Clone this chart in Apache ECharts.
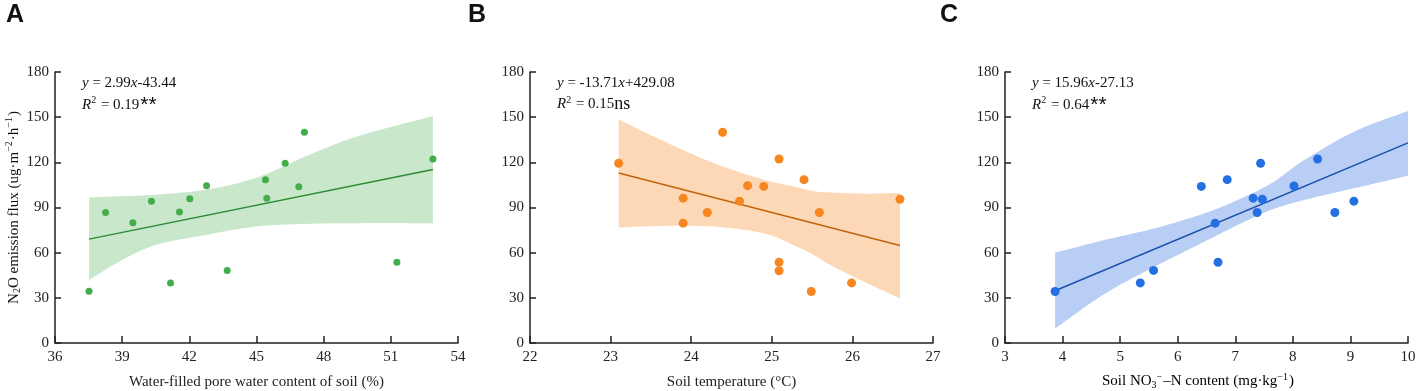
<!DOCTYPE html>
<html>
<head>
<meta charset="utf-8">
<script src="https://cdn.jsdelivr.net/npm/echarts@6/dist/echarts.min.js"></script>
<style>
html,body{margin:0;padding:0;background:#fff;}
#chart{width:1417px;height:391px;}
</style>
</head>
<body>
<div id="chart"></div>
<script>
// ---- Data ----
// Panel A: water-filled pore space (%) vs N2O flux
const xA = [37.52, 38.26, 39.48, 40.31, 41.16, 41.56, 42.02, 42.77, 43.69, 45.40, 45.46, 46.28, 46.89, 47.14, 51.27, 52.88];
const yA = [34.4, 86.7, 79.8, 94.2, 39.9, 87.0, 95.8, 104.5, 48.2, 108.5, 96.2, 119.4, 103.8, 139.9, 53.6, 122.2];
const bandXA = [37.52, 39.0, 40.5, 42.73, 44.96, 47.2, 49.43, 52.88];
const bandLoA = [41.8, 55.1, 65.1, 71.8, 77.3, 79.1, 79.6, 79.6];
const bandHiA = [96.7, 97.5, 98.5, 101.8, 109.6, 124.0, 136.9, 150.7];
const fitXA = [37.52, 52.88];
const fitYA = [69.0, 115.2];

// Panel B: soil temperature (°C) vs N2O flux
const xB = [23.10, 23.90, 23.90, 24.20, 24.39, 24.60, 24.70, 24.90, 25.09, 25.09, 25.09, 25.40, 25.49, 25.59, 25.99, 26.59];
const yB = [119.4, 96.2, 79.6, 86.7, 139.9, 94.2, 104.5, 104.0, 122.2, 53.6, 48.0, 108.5, 34.2, 86.7, 39.9, 95.5];
const bandXB = [23.10, 23.66, 24.28, 24.90, 25.31, 25.52, 25.72, 26.14, 26.59];
const bandLoB = [76.7, 77.8, 77.3, 72.9, 64.0, 58.5, 52.0, 40.8, 29.6];
const bandHiB = [148.5, 134.0, 119.5, 108.5, 103.5, 100.8, 100.0, 99.2, 99.6];
const fitXB = [23.10, 26.59];
const fitYB = [112.9, 64.7];

// Panel C: soil NO3--N (mg/kg) vs N2O flux
const xC = [3.87, 5.35, 5.58, 6.41, 6.65, 6.70, 6.86, 7.31, 7.38, 7.44, 7.47, 8.02, 8.43, 8.73, 9.06];
const yC = [34.2, 39.9, 48.2, 104.0, 79.6, 53.6, 108.5, 96.2, 86.7, 119.4, 95.5, 104.3, 122.2, 86.7, 94.2];
const bandXC = [3.87, 4.74, 5.60, 6.47, 7.05, 7.63, 8.21, 9.08, 10.0];
const bandLoC = [9.6, 32.9, 50.7, 67.4, 78.5, 88.5, 95.1, 102.9, 111.1];
const bandHiC = [60.0, 68.5, 76.2, 86.2, 95.1, 106.2, 121.8, 140.7, 154.1];
const fitXC = [3.87, 10.0];
const fitYC = [34.7, 132.9];

// Axis ranges / ticks
const xRanges = [[36, 54, 3], [22, 27, 1], [3, 10, 1]];
const yRange = [0, 180, 30];

const panels = [
  {x: xA, y: yA, bx: bandXA, lo: bandLoA, hi: bandHiA, fx: fitXA, fy: fitYA,
   pt: '#43ad4b', band: '#c9e7ca', line: '#2f8a35', size: 7,
   eq1: '{i|y} = 2.99{i|x}-43.44', eq2: '{i|R}{sup|2} = 0.19{st|**}',
   xname: 'Water-filled pore water content of soil (%)', letter: 'A', left: 55, lx: 6},
  {x: xB, y: yB, bx: bandXB, lo: bandLoB, hi: bandHiB, fx: fitXB, fy: fitYB,
   pt: '#f6861f', band: '#fdd8b6', line: '#c4620c', size: 9,
   eq1: '{i|y} = -13.71{i|x}+429.08', eq2: '{i|R}{sup|2} = 0.15{ns|ns}',
   xname: 'Soil temperature (°C)', letter: 'B', left: 530, lx: 468},
  {x: xC, y: yC, bx: bandXC, lo: bandLoC, hi: bandHiC, fx: fitXC, fy: fitYC,
   pt: '#2470e2', band: '#b9cef4', line: '#1d4fae', size: 9,
   eq1: '{i|y} = 15.96{i|x}-27.13', eq2: '{i|R}{sup|2} = 0.64{st|**}',
   xname: '', letter: 'C', left: 1005, lx: 940}
];

const serif = '"Liberation Serif", "Times New Roman", serif';
const richBase = {
  i: {fontStyle: 'italic', fontFamily: serif, fontSize: 15, color: '#111'},
  sup: {fontFamily: serif, fontSize: 10, color: '#111', verticalAlign: 'top', padding: [0, 1, 8, 0]},
  sub: {fontFamily: serif, fontSize: 10, color: '#111', verticalAlign: 'bottom', padding: [8, 0, 0, 0]},
  st: {fontFamily: '"Liberation Sans", Arial, sans-serif', fontSize: 21, color: '#111', verticalAlign: 'top', padding: [0, 0, 0, 1]},
  ns: {fontFamily: serif, fontSize: 18, color: '#111'},
  n: {fontFamily: serif, fontSize: 15, color: '#111'}
};

// Catmull-Rom sampling of an edge in pixel space (drawing only)
function smoothEdge(pts) {
  const out = [];
  const n = pts.length;
  for (let i = 0; i < n - 1; i++) {
    const p0 = pts[Math.max(i - 1, 0)], p1 = pts[i], p2 = pts[i + 1], p3 = pts[Math.min(i + 2, n - 1)];
    const steps = 12;
    for (let s = 0; s < steps; s++) {
      const t = s / steps, t2 = t * t, t3 = t2 * t;
      const f = (a, b, c, d) => 0.5 * ((2 * b) + (-a + c) * t + (2 * a - 5 * b + 4 * c - d) * t2 + (-a + 3 * b - 3 * c + d) * t3);
      out.push([f(p0[0], p1[0], p2[0], p3[0]), f(p0[1], p1[1], p2[1], p3[1])]);
    }
  }
  out.push(pts[n - 1]);
  return out;
}

const grids = [], xAxes = [], yAxes = [], series = [], graphics = [];
panels.forEach((p, k) => {
  grids.push({left: p.left, top: 72, width: 403, height: 271, outerBoundsMode: 'none', containLabel: false});
  xAxes.push({
    type: 'value', gridIndex: k, min: xRanges[k][0], max: xRanges[k][1], interval: xRanges[k][2], z: 10,
    axisLine: {lineStyle: {color: '#222', width: 1.5}},
    axisTick: {inside: true, length: 7, lineStyle: {color: '#222', width: 1.5}},
    axisLabel: {color: '#222', fontFamily: serif, fontSize: 15, margin: 7},
    splitLine: {show: false},
    name: p.xname, nameLocation: 'middle', nameGap: 32,
    nameTextStyle: {color: '#222', fontFamily: serif, fontSize: 15}
  });
  yAxes.push({
    type: 'value', gridIndex: k, min: yRange[0], max: yRange[1], interval: yRange[2], z: 10,
    axisLine: {show: true, lineStyle: {color: '#222', width: 1.5}},
    axisTick: {show: true, inside: true, length: 6, lineStyle: {color: '#222', width: 1.5}},
    axisLabel: {color: '#222', fontFamily: serif, fontSize: 15, margin: 6},
    splitLine: {show: false},
    name: k === 0 ? '{n|N}{sub|2}{n|O emission flux (ug·m}{sup|−2}{n|·h}{sup|−1}{n|)}' : '',
    nameLocation: 'middle', nameGap: 31, nameRotate: 90,
    nameTextStyle: {rich: richBase}
  });
  // confidence band as a filled polygon through the axis scales
  series.push({
    type: 'custom', xAxisIndex: k, yAxisIndex: k, silent: true, z: 1,
    data: [0],
    renderItem: function (params, api) {
      const up = p.bx.map((x, i) => api.coord([x, p.hi[i]]));
      const lo = p.bx.map((x, i) => api.coord([x, p.lo[i]]));
      const pts = smoothEdge(up).concat(smoothEdge(lo).reverse());
      return {type: 'polygon', shape: {points: pts}, style: {fill: p.band, stroke: null}};
    }
  });
  series.push({
    type: 'line', xAxisIndex: k, yAxisIndex: k, symbol: 'none', silent: true,
    lineStyle: {color: p.line, width: 1.5},
    data: p.fx.map((x, i) => [x, p.fy[i]]), z: 3
  });
  series.push({
    type: 'scatter', xAxisIndex: k, yAxisIndex: k, symbolSize: p.size,
    itemStyle: {color: p.pt, opacity: 1},
    data: p.x.map((x, i) => [x, p.y[i]]), z: 4
  });
  graphics.push({
    type: 'text', left: p.lx, top: 3,
    style: {text: p.letter, font: 'bold 25px "Liberation Sans", Arial, sans-serif', fill: '#111'}
  });
  graphics.push({
    type: 'text', left: p.left + 27, top: 76,
    style: {text: p.eq1, rich: richBase, font: '15px ' + serif, fill: '#111'}
  });
  graphics.push({
    type: 'text', left: p.left + 27, top: 95,
    style: {text: p.eq2, rich: richBase, font: '15px ' + serif, fill: '#111'}
  });
});

// x-axis name for panel C (with sub/superscripts)
graphics.push({
  type: 'text', left: 1102, top: 372,
  style: {text: '{n|Soil NO}{sub|3}{sup|−}{n|–N content (mg·kg}{sup|−1}{n|)}', rich: richBase}
});

const chart = echarts.init(document.getElementById('chart'), null, {renderer: 'canvas'});
chart.setOption({
  animation: false,
  backgroundColor: '#fff',
  grid: grids, xAxis: xAxes, yAxis: yAxes, series: series, graphic: graphics
});
</script>
</body>
</html>
